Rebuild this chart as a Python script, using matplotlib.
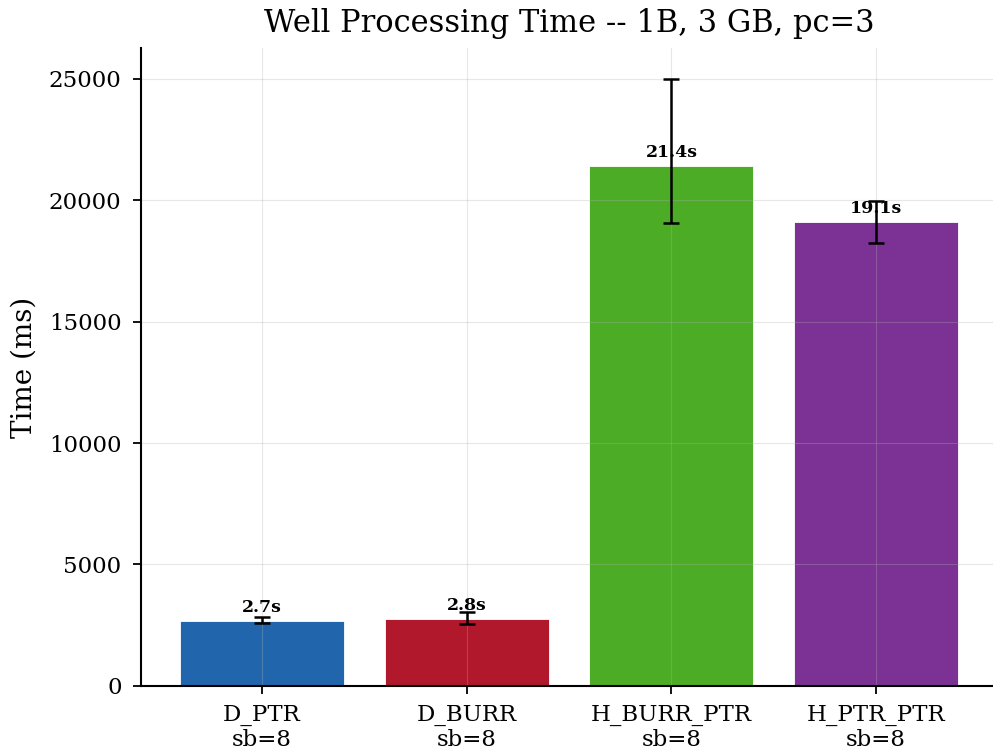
import numpy as np
import matplotlib
matplotlib.use('Agg')
import matplotlib.pyplot as plt
import matplotlib as mpl

# Colors
BLUE, RED, GREEN, PURPLE = '#2166AC', '#B2182B', '#4DAC26', '#7B3294'

mpl.rcParams['font.family'] = 'DejaVu Serif'
mpl.rcParams['axes.spines.top'] = False
mpl.rcParams['axes.spines.right'] = False

# Data
methods = ['D_PTR', 'D_BURR', 'H_BURR_PTR', 'H_PTR_PTR']
sb_labels = ['sb=8', 'sb=8', 'sb=8', 'sb=8']
times_ms = [2660, 2760, 21400, 19100]
time_low = [2600, 2540, 19050, 18250]
time_high = [2850, 3050, 25000, 19950]
colors = [BLUE, RED, GREEN, PURPLE]

times = np.array(times_ms)
yerr = [times - np.array(time_low), np.array(time_high) - times]

fig = plt.figure(figsize=(9.93, 7.53), dpi=100)
ax = fig.add_axes([0.142, 0.089, 0.862, 0.847])

x = np.arange(len(methods))
bars = ax.bar(x, times, width=0.8, color=colors, edgecolor='white', linewidth=0.6)
ax.errorbar(x, times, yerr=yerr, fmt='none', ecolor='black',
            elinewidth=1.8, capsize=5.5, capthick=1.8)

# Bar labels in seconds
for xi, t in zip(x, times):
    ax.text(xi, t + 200, '{:.1f}s'.format(t / 1000), ha='center', va='bottom',
            fontsize=12.5, fontweight='bold')

ax.set_xticks(x)
ax.set_xticklabels(['{}\n{}'.format(m, s) for m, s in zip(methods, sb_labels)],
                   fontsize=16.5, linespacing=1.15)
ax.tick_params(axis='y', labelsize=16.5, pad=8)
ax.tick_params(axis='x', pad=7)
ax.tick_params(axis='both', length=6, width=1.3)
ax.set_ylim(0, max(time_high) * 1.05)
ax.set_yticks(range(0, 25001, 5000))

ax.set_ylabel('Time (ms)', fontsize=20, labelpad=8)
ax.set_title('Well Processing Time -- 1B, 3 GB, pc=3', fontsize=22, pad=12)

ax.grid(True, alpha=0.3)
for sp in ['left', 'bottom']:
    ax.spines[sp].set_linewidth(1.5)

fig.savefig('out.png', dpi=100)
